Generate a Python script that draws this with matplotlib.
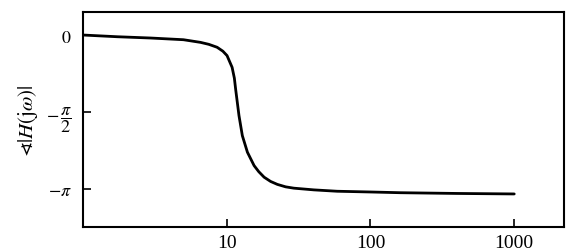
import numpy as np
import matplotlib
matplotlib.use("Agg")
import matplotlib.pyplot as plt

plt.rcParams['mathtext.fontset'] = 'stix'
plt.rcParams['font.family'] = ['Liberation Serif', 'DejaVu Serif', 'DejaVu Sans']

freq = [1.0, 1.73, 2.95, 5.0, 6.57, 7.5, 8.57, 9.4, 10.05, 10.9, 11.3, 11.55, 12.17, 12.84, 13.93, 15.5, 16.7, 18.2, 20.2, 22.5, 25.7, 29.3, 40.4, 58.6, 100.0, 162.0, 400.0, 1000.0]
phase = [0.0, -0.035, -0.061, -0.096, -0.15, -0.19, -0.25, -0.33, -0.42, -0.66, -0.88, -1.12, -1.646, -2.054, -2.393, -2.666, -2.79, -2.903, -2.99, -3.05, -3.10, -3.127, -3.162, -3.19, -3.205, -3.22, -3.235, -3.245]

ytick_vals = [0, -np.pi/2, -np.pi]
ytick_labels = [r'$0$', r'$-\,\dfrac{\pi}{2}$', r'$-\pi$']
xtick_vals = [10, 100, 1000]
xtick_labels = ['10', '100', '1000']

fig = plt.figure(figsize=(5.66, 2.53), dpi=100)
ax = fig.add_axes([0.1466, 0.0988, 0.8499, 0.8498])
ax.semilogx(freq, phase, color='black', lw=2.0, solid_capstyle='round', solid_joinstyle='round')
ax.set_xlim(1.0, 2220)
ax.set_ylim(-3.92, 0.47)
ax.set_xticks(xtick_vals)
ax.set_xticklabels(xtick_labels, fontsize=14)
ax.minorticks_off()
ax.set_yticks(ytick_vals)
ax.set_yticklabels(ytick_labels, fontsize=13)
ax.tick_params(direction='in', length=6, width=1.2)
ax.tick_params(axis='x', pad=5)
ax.tick_params(axis='y', pad=8)
for s in ax.spines.values():
    s.set_linewidth(1.5)
ax.set_ylabel(r'$\sphericalangle|H(\mathrm{j}\omega)|$', fontsize=15, labelpad=4)
fig.savefig('out.png', dpi=100)
